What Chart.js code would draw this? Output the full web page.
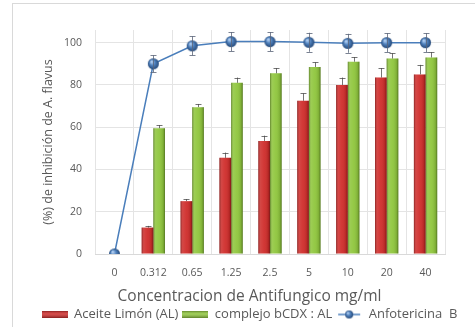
<!DOCTYPE html>
<html><head><meta charset="utf-8">
<script src="https://cdn.jsdelivr.net/npm/chart.js@4"></script>
<style>
html,body{margin:0;padding:0;background:#fff;}
#wrap{position:relative;width:475px;height:329px;overflow:hidden;}
#frame{position:absolute;left:12px;top:3px;right:-2px;bottom:2px;border-left:1px solid #d9d9d9;border-top:1px solid #d9d9d9;}
canvas{position:absolute;left:0;top:0;}
</style></head><body>
<div id="wrap"><div id="frame"></div><canvas id="c" width="475" height="329"></canvas></div>
<script>
const categories = ['0','0.312','0.65','1.25','2.5','5','10','20','40'];
const aceiteLimon = [0,12.5,25,45.5,53.5,72.5,80,83.5,85];
const aceiteLimonErr = [0,0.8,1,2.5,2.5,3.5,3.5,4.5,4.5];
const complejo = [0,59.5,69.5,81,85.5,88.5,91,92.5,93];
const complejoErr = [0,1.5,1.5,2.5,2.5,2.2,2.2,2.5,2.5];
const anfotericina = [0,90,98.5,100.5,100.5,100.2,99.7,100,100];
const anfotericinaErr = [0,4,4.5,4.5,4.5,4.5,4.5,4.5,4.5];
const yTicks = [0,20,40,60,80,100];

const FONT = "'Open Sans', 'Liberation Sans', sans-serif";
const TXT = '#595959';

function sphere(r){
  const c=document.createElement('canvas'); c.width=c.height=2*r+2;
  const g=c.getContext('2d'); const cx=r+1;
  const grd=g.createRadialGradient(cx-r*0.35,cx-r*0.4,r*0.1,cx,cx,r);
  grd.addColorStop(0,'#b4d0f2'); grd.addColorStop(0.45,'#4f81bd'); grd.addColorStop(1,'#264a7a');
  g.fillStyle=grd; g.beginPath(); g.arc(cx,cx,r,0,Math.PI*2); g.fill();
  return c;
}
function barSwatch(base){
  const c=document.createElement('canvas'); c.width=26; c.height=7;
  const g=c.getContext('2d'); g.fillStyle=base; g.fillRect(0,0,26,7);
  const grd=g.createLinearGradient(0,0,0,7);
  grd.addColorStop(0,'rgba(0,0,0,0.3)'); grd.addColorStop(0.4,'rgba(255,255,255,0.15)'); grd.addColorStop(1,'rgba(0,0,0,0.35)');
  g.fillStyle=grd; g.fillRect(0,0,26,7);
  return c;
}
function lineSwatch(){
  const c=document.createElement('canvas'); c.width=26; c.height=12;
  const g=c.getContext('2d'); g.strokeStyle='#4a7ebb'; g.lineWidth=1.5;
  g.beginPath(); g.moveTo(2,6); g.lineTo(24,6); g.stroke();
  g.drawImage(sphere(4),8,1);
  return c;
}
const RED='#cf2c2a', GREEN='#8fc63c';
const pointImg = sphere(5.5);
const swatches = [barSwatch(RED), barSwatch(GREEN), lineSwatch()];

const shadePlugin = {
  id:'shade',
  afterDatasetDraw(chart,args){
    if(args.meta.type!=='bar') return;
    const ctx=chart.ctx; ctx.save();
    args.meta.data.forEach(el=>{
      const p=el.getProps(['x','y','base','width'],true);
      const h=p.base-p.y; if(h<=0) return;
      const l=p.x-p.width/2, r=p.x+p.width/2;
      const grd=ctx.createLinearGradient(l,0,r,0);
      grd.addColorStop(0,'rgba(0,0,0,0.35)');
      grd.addColorStop(0.2,'rgba(255,255,255,0.12)');
      grd.addColorStop(0.5,'rgba(255,255,255,0.05)');
      grd.addColorStop(0.85,'rgba(0,0,0,0.12)');
      grd.addColorStop(1,'rgba(0,0,0,0.4)');
      ctx.fillStyle=grd; ctx.fillRect(l,p.y,p.width,h);
    });
    ctx.restore();
  }
};
const errPlugin = {
  id:'err',
  afterDatasetsDraw(chart){
    const ctx=chart.ctx, ys=chart.scales.y;
    const errs=[aceiteLimonErr, complejoErr, anfotericinaErr];
    ctx.save(); ctx.lineWidth=1;
    chart.data.datasets.forEach((ds,di)=>{
      const meta=chart.getDatasetMeta(di);
      const isBar = meta.type==='bar';
      ctx.strokeStyle = isBar ? 'rgba(70,70,70,0.75)' : 'rgba(90,100,120,0.8)';
      meta.data.forEach((el,i)=>{
        const e=errs[di][i]; if(!e) return;
        const v=ds.data[i];
        const x=Math.round(el.x)+0.5;
        const top=ys.getPixelForValue(v+e);
        const bot=isBar ? ys.getPixelForValue(v) : ys.getPixelForValue(v-e);
        const cw=3;
        ctx.beginPath();
        ctx.moveTo(x,top); ctx.lineTo(x,bot);
        ctx.moveTo(x-cw,Math.round(top)+0.5); ctx.lineTo(x+cw,Math.round(top)+0.5);
        if(!isBar){ ctx.moveTo(x-cw,Math.round(bot)+0.5); ctx.lineTo(x+cw,Math.round(bot)+0.5); }
        ctx.stroke();
      });
    });
    ctx.restore();
  }
};

new Chart(document.getElementById('c'),{
  data:{
    labels:categories,
    datasets:[
      {type:'bar', label:'Aceite Limón (AL)', data:aceiteLimon, backgroundColor:RED, order:1,
       categoryPercentage:0.6, barPercentage:1},
      {type:'bar', label:'complejo bCDX : AL', data:complejo, backgroundColor:GREEN, order:1,
       categoryPercentage:0.6, barPercentage:1},
      {type:'line', label:'Anfotericina  B', data:anfotericina, borderColor:'#4a7ebb', borderWidth:1.5,
       backgroundColor:'#4f81bd', pointStyle:pointImg, pointRadius:6, tension:0, order:0}
    ]
  },
  options:{
    responsive:false, animation:false,
    layout:{padding:{left:24,right:0,top:30,bottom:-2}},
    plugins:{
      tooltip:{enabled:false},
      title:{display:true, position:'bottom', weight:500, text:'Concentracion de Antifungico mg/ml',
        color:TXT, font:{size:15.5,family:FONT,weight:'normal'}, padding:{top:0,bottom:-2}},
      legend:{position:'bottom', weight:1000,
        labels:{usePointStyle:true, pointStyleWidth:26, boxHeight:10, padding:4, color:TXT,
          font:{size:13,family:FONT},
          sort:(a,b)=>a.datasetIndex-b.datasetIndex,
          generateLabels(chart){
            const items=Chart.defaults.plugins.legend.labels.generateLabels(chart);
            items.forEach(it=>{it.pointStyle=swatches[it.datasetIndex];});
            return items;
          }}}
    },
    scales:{
      x:{offset:true,
        grid:{offset:true,color:'#e4e4e4',drawTicks:false},
        border:{color:'#d9d9d9'},
        ticks:{padding:13,color:TXT,font:{size:10.5,family:FONT}},
        afterFit(s){ s.height=33.4; }
      },
      y:{min:0,max:106,
        afterBuildTicks(s){ s.ticks=yTicks.map(v=>({value:v})); },
        grid:{color:'#e4e4e4',drawTicks:false},
        border:{display:false},
        ticks:{padding:13,color:TXT,font:{size:10.5,family:FONT}},
        title:{display:true,text:'(%) de inhibición de A. flavus',color:TXT,font:{size:12.5,family:FONT},padding:{top:17,bottom:0}},
        afterFit(s){ s.width=71; }
      },
      yRight:{position:'right',min:0,max:106,
        grid:{display:false}, border:{display:false}, ticks:{display:false},
        afterFit(s){ s.width=30; }
      }
    }
  },
  plugins:[shadePlugin, errPlugin]
});
</script>
</body></html>
